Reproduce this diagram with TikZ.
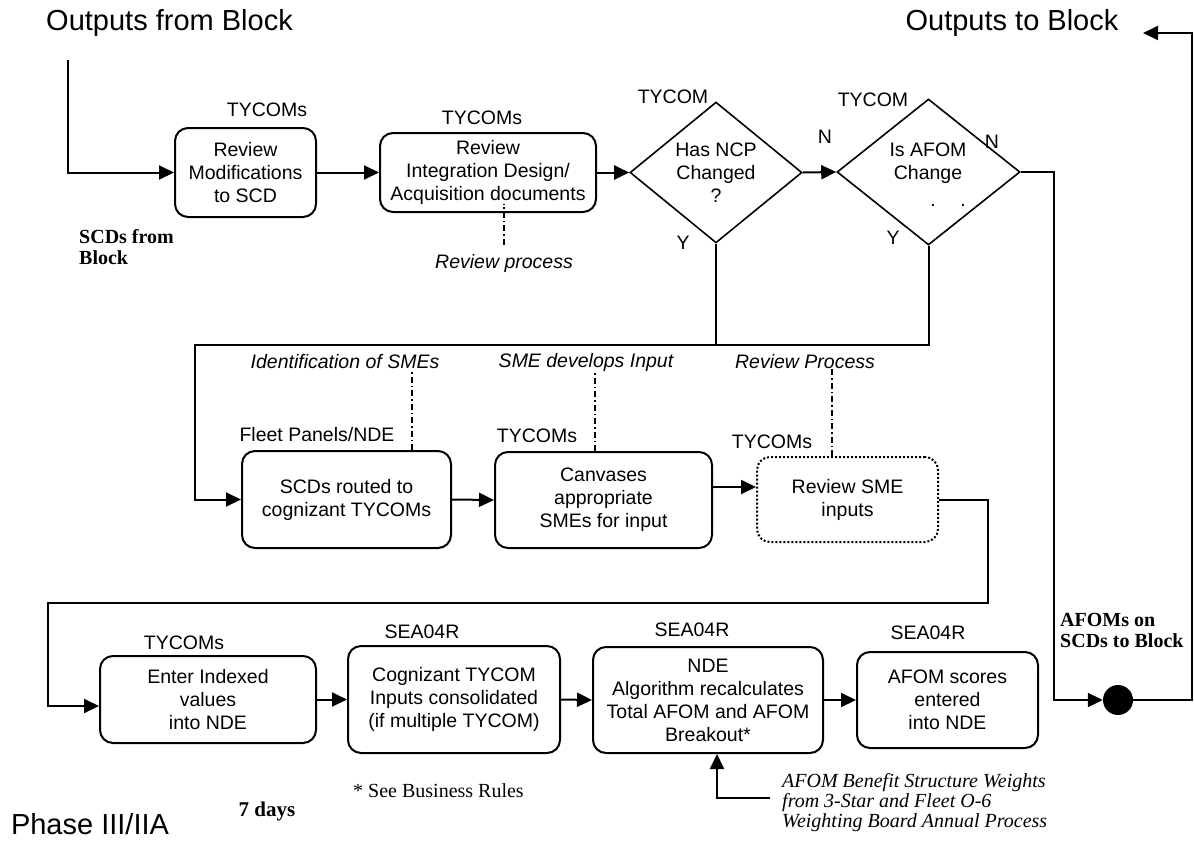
\documentclass[tikz,border=0pt]{standalone}
\usepackage{fontspec}
\setmainfont{Liberation Sans}
\newfontfamily\tnr{Liberation Serif}
\usetikzlibrary{arrows.meta,shapes.geometric,calc}
\newcommand\bxf{\fontsize{19.5}{23}\selectfont}
\newcommand\hgf{\fontsize{29}{34}\selectfont}
\newcommand\srf{\tnr\fontsize{20}{21}\selectfont}
\begin{document}
\begin{tikzpicture}[x=1pt,y=-1pt,
  conn/.style={line width=2pt},
  arr/.style={line width=2pt,-{Triangle[length=15pt,width=14pt]}},
  box/.style={draw,line width=2pt,rounded corners=13pt,align=center,inner sep=0pt,font=\bxf},
  dbox/.style={box,dash pattern=on 2pt off 2pt},
  lab/.style={font=\bxf,inner sep=0pt},
  ilab/.style={font=\bxf\itshape,inner sep=0pt},
  dia/.style={draw,shape=diamond,line width=1.6pt,inner sep=0pt,align=center,font=\bxf},
  ddash/.style={line width=1.2pt,dash pattern=on 6pt off 3pt on 1.5pt off 3pt},
  ttl/.style={font=\hgf,inner sep=0pt},
  bsf/.style={font=\srf\bfseries,align=left,inner sep=0pt,anchor=west}
  ]
\useasboundingbox (0,0) rectangle (1194,841);

% titles
\node[ttl] (t1) at (169.5,23) {Outputs from Block};
\node[ttl] (t2) at (1012,23) {Outputs to Block};
\node[ttl] (t3) at (90,824) {Phase III/IIA};

% top row
\node[box,minimum width=141pt,minimum height=89pt] (b1) at (245.5,172.5) {Review\\Modifications\\to SCD};
\node[box,minimum width=216pt,minimum height=79pt] (b2) at (488,172.5) {Review\\Integration Design/\\Acquisition documents};
\node[dia,minimum width=172pt,minimum height=135pt] (d1) at (716,172.5) {Has NCP\\Changed\\?};
\node[dia,minimum width=183pt,minimum height=146pt] (d2) at (928.5,172) {};
\node[lab,align=center] (d2t) at (928,163.5) {Is AFOM\\Change};
\node[lab] (d2dots) at (948,205) {.\hspace{24.5pt}.};

\node[lab] (l1) at (267,110) {TYCOMs};
\node[lab] (l2) at (482,118) {TYCOMs};
\node[lab] (l3) at (673,97) {TYCOM};
\node[lab] (l4) at (873,100) {TYCOM};
\node[lab] (n1) at (825,137) {N};
\node[lab] (n2) at (992,142) {N};
\node[lab] (y1) at (683,243) {Y};
\node[lab] (y2) at (893,238) {Y};
\node[ilab] (rp) at (504,263) {Review process};
\node[bsf] (sfb) at (79,247) {SCDs from\\Block};

% middle row
\node[ilab] (i1) at (345,362) {Identification of SMEs};
\node[ilab] (i2) at (586,362) {SME develops Input};
\node[ilab] (i3) at (805,362) {Review Process};
\node[lab] (l5) at (317,435) {Fleet Panels/NDE};
\node[lab] (l6) at (537,436) {TYCOMs};
\node[lab] (l7) at (772,442) {TYCOMs};
\node[box,minimum width=209pt,minimum height=97pt] (b3) at (346.5,499.5) {SCDs routed to\\cognizant TYCOMs};
\node[box,minimum width=217pt,minimum height=96pt] (b4) at (603.5,500) {Canvases\\appropriate\\SMEs for input};
\node[dbox,minimum width=181pt,minimum height=85pt] (b5) at (847.5,499.5) {Review SME\\inputs};

% bottom row
\node[lab] (l8) at (184,643) {TYCOMs};
\node[lab] (l9) at (422,632) {SEA04R};
\node[lab] (l10) at (692,630) {SEA04R};
\node[lab] (l11) at (928,633) {SEA04R};
\node[box,minimum width=216pt,minimum height=87pt] (b6) at (208,699.5) {Enter Indexed\\values\\into NDE};
\node[box,minimum width=212pt,minimum height=107pt] (b7) at (454,699.5) {Cognizant TYCOM\\Inputs consolidated\\(if multiple TYCOM)};
\node[box,minimum width=230pt,minimum height=106pt] (b8) at (708,700) {NDE\\Algorithm recalculates\\Total AFOM and AFOM\\Breakout*};
\node[box,minimum width=181pt,minimum height=96pt] (b9) at (947.5,700) {AFOM scores\\entered\\into NDE};
\node[bsf] (afb) at (1060,630) {AFOMs on\\SCDs to Block};
\node[fill,circle,inner sep=0pt,minimum size=30pt] (dot) at (1118,700) {};
\node[font=\srf,inner sep=0pt,anchor=west] (br) at (353,791) {* See Business Rules};
\node[font=\tnr\fontsize{21}{24}\selectfont\bfseries,inner sep=0pt] (sd) at (267,811) {7 days};
\node[font=\tnr\fontsize{20}{20}\selectfont\itshape,align=left,inner sep=0pt,anchor=west] (wt) at (782,803) {AFOM Benefit Structure Weights\\from 3-Star and Fleet O-6\\Weighting Board Annual Process};

% coordinates
\coordinate (in) at (68,60);
\coordinate (m1) at (195,345);
\coordinate (m2) at (988,603);
\coordinate (m3) at (48,603);
\coordinate (j1) at (1054,700);
\coordinate (r1) at (1192,33);
\coordinate (outend) at (1143,33);

% connectors
\draw[arr] (in) |- (b1.west);
\draw[arr] (b1.east) -- (b2.west);
\draw[arr] (b2.east) -- (d1.west);
\draw[arr] (d1.east) -- (d2.west);
\draw[arr] (d2.east) -| (j1) -- (dot.west);
\draw[arr] (dot.east) -| (r1) -- (outend);
\draw[conn] (d1.south) -- (d1.south |- m1);
\draw[arr] (d2.south) |- (m1) |- (b3.west);
\draw[arr] (b3.east) -- (b4.west);
\draw[arr] ([yshift=13pt]b4.east) -- ([yshift=13pt]b4.east -| b5.west);
\draw[arr] (b5.east) -| (m2) -- (m3) |- ([yshift=-6.5pt]b6.west);
\draw[arr] (b6.east) -- (b7.west);
\draw[arr] (b7.east) -- (b8.west);
\draw[arr] (b8.east) -- (b9.west);
\draw[arr] ([xshift=-12pt,yshift=5pt]wt.west) -| ([xshift=9pt]b8.south);

% dash-dot annotations
\draw[ddash] ([yshift=9pt]rp.north) -- ([yshift=9pt]rp.north |- b2.south);
\draw[ddash] ([xshift=65.5pt]b3.north) -- ([xshift=65.5pt]b3.north |- i1.south);
\draw[ddash] ([xshift=-8.5pt]b4.north) -- ([xshift=-8.5pt]b4.north |- i2.south);
\draw[ddash] ([xshift=-15.5pt]b5.north) -- ([xshift=-15.5pt]b5.north |- i3.south);
\end{tikzpicture}
\end{document}
